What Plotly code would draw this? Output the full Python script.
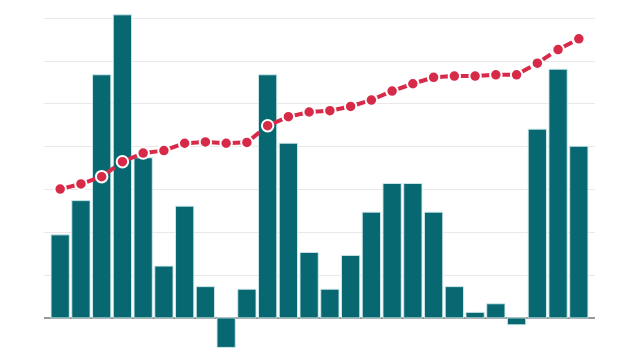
import plotly.graph_objects as go

categories = list(range(1, 27))
bar_values = [1.94, 2.74, 5.68, 7.08, 3.74, 1.21, 2.61, 0.73, -0.69, 0.67,
              5.68, 4.08, 1.53, 0.67, 1.46, 2.47, 3.14, 3.14, 2.47, 0.73,
              0.13, 0.33, -0.16, 4.41, 5.81, 4.01]
line_values = [3.01, 3.13, 3.30, 3.65, 3.85, 3.91, 4.08, 4.11, 4.08, 4.10,
               4.49, 4.70, 4.81, 4.84, 4.94, 5.09, 5.30, 5.47, 5.62, 5.65,
               5.65, 5.68, 5.68, 5.95, 6.27, 6.52]
y_ticks = [0, 1, 2, 3, 4, 5, 6, 7]

TEAL = "#086872"
RED = "#d72a48"

# split the line into one sub-path per segment so each gets its own dash
seg_x, seg_y = [], []
for i in range(len(categories) - 1):
    seg_x += [categories[i], categories[i + 1], None]
    seg_y += [line_values[i], line_values[i + 1], None]

fig = go.Figure()
fig.add_trace(go.Bar(
    x=categories, y=bar_values,
    marker=dict(color=TEAL, line=dict(color="rgba(210,235,238,0.9)", width=1)),
    hoverinfo="skip",
))
fig.add_trace(go.Scatter(
    x=seg_x, y=seg_y, mode="lines", connectgaps=False,
    line=dict(color=RED, width=4, dash="0px,5px,11px,200px"),
    hoverinfo="skip",
))
fig.add_trace(go.Scatter(
    x=categories, y=line_values, mode="markers",
    marker=dict(color=RED, size=11.5, line=dict(color="white", width=2)),
    hoverinfo="skip",
))

fig.update_layout(
    width=640, height=360,
    margin=dict(l=44, r=45, t=5, b=10),
    paper_bgcolor="white", plot_bgcolor="white",
    showlegend=False,
    bargap=0.12,
    xaxis=dict(range=[0.22, 26.78], showgrid=False, showticklabels=False,
               zeroline=False, showline=False, ticks=""),
    yaxis=dict(range=[-0.75, 7.31], tickvals=y_ticks, showticklabels=False,
               gridcolor="#e9e9e9", gridwidth=1,
               zeroline=True, zerolinecolor="#999999", zerolinewidth=2,
               ticks=""),
)

fig.write_html("out.html")
